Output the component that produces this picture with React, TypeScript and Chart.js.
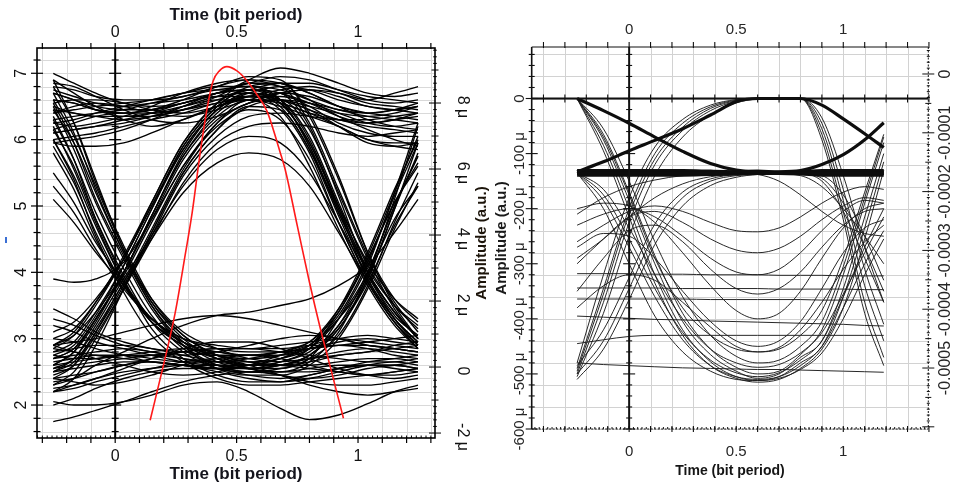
import React, { useEffect, useRef } from "react";
import { Chart, registerables } from "chart.js";

Chart.register(...registerables);

const SANS = '"Liberation Sans", Arial, Helvetica, sans-serif';

/* ---------------- Left eye diagram (amplitude, a.u.) ---------------- */
const leftTimes = [-0.255, -0.17, -0.08, 0.035, 0.15, 0.28, 0.42, 0.55, 0.68, 0.8, 0.92, 1.04, 1.15, 1.247];

const leftSteadyHigh = [
  [7.0, 6.85, 6.7, 6.55, 6.5, 6.55, 6.7, 6.85, 6.95, 6.9, 6.75, 6.6, 6.55, 6.6],
  [6.6, 6.55, 6.45, 6.4, 6.45, 6.6, 6.8, 6.9, 6.85, 6.7, 6.5, 6.3, 6.2, 6.15],
  [6.3, 6.35, 6.4, 6.45, 6.55, 6.65, 6.75, 6.8, 6.75, 6.6, 6.45, 6.4, 6.45, 6.5],
  [6.9, 6.7, 6.5, 6.3, 6.2, 6.3, 6.5, 6.7, 6.8, 6.75, 6.6, 6.5, 6.45, 6.4],
  [6.1, 6.15, 6.2, 6.25, 6.35, 6.5, 6.65, 6.7, 6.6, 6.45, 6.3, 6.2, 6.15, 6.1],
  [6.45, 6.4, 6.35, 6.3, 6.35, 6.45, 6.65, 6.9, 7.08, 7.0, 6.85, 6.7, 6.65, 6.7],
  [6.0, 6.05, 6.1, 6.2, 6.3, 6.4, 6.55, 6.6, 6.5, 6.35, 6.2, 6.0, 5.95, 5.95],
  [6.75, 6.65, 6.55, 6.5, 6.55, 6.6, 6.7, 6.75, 6.7, 6.55, 6.35, 6.25, 6.3, 6.4],
  [6.25, 6.2, 6.25, 6.35, 6.5, 6.7, 6.85, 6.9, 6.8, 6.6, 6.35, 6.15, 6.0, 5.9],
  [6.55, 6.6, 6.6, 6.55, 6.45, 6.4, 6.5, 6.65, 6.75, 6.8, 6.7, 6.55, 6.5, 6.45],
  [6.85, 6.8, 6.65, 6.45, 6.3, 6.25, 6.35, 6.55, 6.7, 6.75, 6.7, 6.6, 6.7, 6.8],
  [5.95, 5.9, 5.9, 5.95, 6.1, 6.3, 6.5, 6.6, 6.55, 6.4, 6.2, 6.0, 5.9, 5.85],
  [6.4, 6.5, 6.55, 6.5, 6.4, 6.35, 6.45, 6.6, 6.7, 6.65, 6.5, 6.4, 6.35, 6.3],
  [6.7, 6.6, 6.45, 6.35, 6.35, 6.45, 6.6, 6.75, 6.85, 6.85, 6.75, 6.65, 6.6, 6.55],
  [6.15, 6.25, 6.35, 6.4, 6.4, 6.45, 6.55, 6.65, 6.65, 6.55, 6.4, 6.25, 6.2, 6.25],
];

const leftSteadyLow = [
  [2.7, 2.75, 2.8, 2.85, 2.8, 2.7, 2.6, 2.55, 2.6, 2.7, 2.8, 2.85, 2.8, 2.75],
  [2.4, 2.35, 2.3, 2.35, 2.45, 2.6, 2.7, 2.75, 2.7, 2.6, 2.5, 2.45, 2.5, 2.55],
  [3.0, 2.95, 2.85, 2.75, 2.65, 2.6, 2.55, 2.6, 2.7, 2.85, 2.95, 3.0, 2.95, 2.9],
  [1.75, 1.82, 1.92, 2.05, 2.2, 2.35, 2.45, 2.5, 2.45, 2.35, 2.3, 2.3, 2.35, 2.4],
  [2.55, 2.6, 2.65, 2.7, 2.75, 2.8, 2.85, 2.85, 2.8, 2.75, 2.7, 2.65, 2.65, 2.7],
  [2.9, 2.8, 2.7, 2.6, 2.5, 2.45, 2.5, 2.6, 2.75, 2.9, 3.0, 3.05, 3.0, 2.95],
  [2.2, 2.25, 2.35, 2.45, 2.55, 2.65, 2.7, 2.6, 2.45, 2.3, 2.2, 2.15, 2.2, 2.25],
  [2.05, 2.0, 2.0, 2.05, 2.15, 2.3, 2.35, 2.2, 1.95, 1.78, 1.85, 2.02, 2.2, 2.3],
  [2.65, 2.7, 2.75, 2.75, 2.7, 2.65, 2.65, 2.7, 2.8, 2.9, 2.9, 2.85, 2.75, 2.7],
  [3.3, 3.2, 3.05, 2.9, 2.8, 2.75, 2.8, 2.9, 3.0, 3.05, 3.0, 2.9, 2.85, 2.8],
  [2.35, 2.4, 2.5, 2.6, 2.65, 2.6, 2.5, 2.4, 2.35, 2.4, 2.5, 2.6, 2.65, 2.6],
  [3.45, 3.3, 3.1, 2.95, 2.85, 2.8, 2.75, 2.75, 2.8, 2.85, 2.9, 2.95, 3.0, 3.05],
  [2.5, 2.55, 2.6, 2.65, 2.65, 2.6, 2.55, 2.45, 2.4, 2.45, 2.55, 2.6, 2.6, 2.55],
  [2.8, 2.85, 2.9, 2.9, 2.85, 2.75, 2.65, 2.6, 2.6, 2.65, 2.75, 2.8, 2.9, 2.95],
  [2.25, 2.3, 2.4, 2.55, 2.7, 2.85, 2.95, 2.95, 2.85, 2.7, 2.55, 2.45, 2.4, 2.45],
];

const leftFallLow = [
  [6.2, 5.55, 4.75, 3.85, 3.25, 2.9, 2.75, 2.65, 2.6, 2.6, 2.65, 2.7, 2.7, 2.65],
  [6.5, 5.85, 5.05, 4.2, 3.45, 2.9, 2.6, 2.5, 2.5, 2.55, 2.6, 2.6, 2.55, 2.5],
  [5.9, 5.35, 4.6, 3.8, 3.3, 3.0, 2.85, 2.8, 2.8, 2.85, 2.9, 2.9, 2.85, 2.8],
  [6.6, 6.05, 5.3, 4.35, 3.55, 3.0, 2.7, 2.55, 2.45, 2.4, 2.45, 2.55, 2.6, 2.65],
  [6.35, 5.7, 4.8, 3.9, 3.15, 2.7, 2.45, 2.35, 2.35, 2.45, 2.55, 2.65, 2.7, 2.75],
  [5.3, 4.9, 4.35, 3.75, 3.3, 3.0, 2.9, 2.85, 2.9, 2.95, 3.0, 2.95, 2.9, 2.85],
  [6.8, 6.25, 5.4, 4.35, 3.55, 3.05, 2.75, 2.65, 2.6, 2.55, 2.5, 2.45, 2.45, 2.5],
  [5.1, 4.75, 4.3, 3.8, 3.3, 2.95, 2.7, 2.55, 2.5, 2.5, 2.55, 2.6, 2.6, 2.55],
  [6.45, 5.95, 5.2, 4.3, 3.6, 3.1, 2.85, 2.7, 2.65, 2.7, 2.75, 2.8, 2.85, 2.9],
  [6.0, 5.4, 4.55, 3.7, 3.05, 2.65, 2.4, 2.3, 2.3, 2.35, 2.4, 2.45, 2.5, 2.55],
];

const leftFallRise = [
  [6.3, 5.7, 4.9, 4.05, 3.35, 2.85, 2.6, 2.55, 2.6, 2.75, 3.15, 3.9, 4.95, 5.8],
  [6.0, 5.45, 4.7, 3.85, 3.25, 2.95, 2.75, 2.7, 2.75, 2.9, 3.35, 4.15, 5.15, 5.95],
  [6.55, 5.95, 5.1, 4.25, 3.5, 2.95, 2.65, 2.55, 2.55, 2.7, 3.05, 3.8, 4.75, 5.5],
  [5.8, 5.25, 4.5, 3.8, 3.25, 2.9, 2.7, 2.6, 2.65, 2.85, 3.4, 4.25, 5.2, 6.05],
  [6.7, 6.1, 5.25, 4.3, 3.5, 2.9, 2.55, 2.45, 2.45, 2.6, 3.0, 3.75, 4.65, 5.35],
  [6.15, 5.6, 4.8, 3.95, 3.25, 2.8, 2.55, 2.5, 2.55, 2.7, 3.3, 4.1, 5.2, 6.25],
  [5.5, 5.05, 4.45, 3.85, 3.3, 2.95, 2.8, 2.75, 2.8, 2.95, 3.45, 4.2, 5.05, 5.65],
  [6.9, 6.25, 5.35, 4.4, 3.6, 3.05, 2.75, 2.6, 2.6, 2.75, 3.2, 4.0, 5.0, 5.75],
];

const leftRiseHigh = [
  [2.7, 2.85, 3.3, 4.0, 4.85, 5.75, 6.35, 6.6, 6.55, 6.4, 6.3, 6.25, 6.3, 6.35],
  [2.5, 2.65, 3.1, 3.8, 4.6, 5.5, 6.15, 6.5, 6.6, 6.55, 6.45, 6.35, 6.3, 6.25],
  [2.9, 3.1, 3.55, 4.25, 5.05, 5.95, 6.55, 6.75, 6.7, 6.5, 6.25, 6.1, 6.05, 6.05],
  [2.6, 2.8, 3.25, 4.0, 4.8, 5.7, 6.3, 6.55, 6.7, 6.75, 6.65, 6.5, 6.45, 6.5],
  [3.1, 3.25, 3.6, 4.2, 5.0, 5.85, 6.45, 6.65, 6.6, 6.45, 6.2, 5.95, 5.9, 5.95],
  [2.3, 2.5, 3.0, 3.75, 4.55, 5.45, 6.05, 6.35, 6.4, 6.35, 6.3, 6.3, 6.35, 6.4],
  [3.9, 3.85, 3.9, 4.15, 4.8, 5.6, 6.25, 6.55, 6.6, 6.5, 6.4, 6.35, 6.4, 6.5],
  [2.8, 2.95, 3.4, 4.1, 4.95, 5.9, 6.5, 6.8, 6.85, 6.7, 6.5, 6.4, 6.45, 6.55],
  [2.45, 2.6, 3.05, 3.75, 4.5, 5.35, 5.95, 6.2, 6.25, 6.2, 6.1, 6.05, 6.1, 6.15],
];

const leftRiseFall = [
  [2.7, 2.85, 3.3, 4.0, 4.85, 5.75, 6.4, 6.65, 6.55, 5.9, 4.9, 4.0, 3.4, 3.0],
  [2.5, 2.7, 3.15, 3.85, 4.65, 5.55, 6.25, 6.6, 6.6, 6.15, 5.2, 4.2, 3.45, 3.0],
  [2.85, 3.05, 3.5, 4.2, 5.0, 5.9, 6.5, 6.75, 6.7, 6.2, 5.15, 4.0, 3.35, 3.05],
  [2.6, 2.8, 3.3, 3.95, 4.75, 5.6, 6.2, 6.45, 6.3, 5.7, 4.75, 3.85, 3.25, 2.85],
  [3.0, 3.15, 3.55, 4.2, 5.05, 5.95, 6.55, 6.85, 6.85, 6.4, 5.45, 4.3, 3.5, 3.0],
  [2.4, 2.6, 3.1, 3.85, 4.5, 5.2, 5.65, 5.8, 5.7, 5.3, 4.6, 3.85, 3.25, 2.85],
  [2.9, 3.05, 3.4, 4.0, 4.85, 5.8, 6.45, 6.7, 6.55, 5.95, 4.95, 3.9, 3.3, 2.95],
  [2.2, 2.4, 2.9, 3.75, 4.6, 5.5, 6.15, 6.5, 6.45, 5.85, 4.95, 4.05, 3.5, 3.2],
  [2.75, 2.9, 3.35, 4.1, 4.95, 5.85, 6.45, 6.7, 6.6, 6.05, 5.05, 4.1, 3.5, 3.15],
  [2.55, 2.7, 3.2, 3.9, 4.55, 5.3, 5.85, 6.05, 5.95, 5.5, 4.75, 3.95, 3.3, 2.9],
];

const leftHighFall = [
  [6.4, 6.45, 6.5, 6.55, 6.6, 6.7, 6.8, 6.8, 6.6, 5.9, 4.9, 4.0, 3.4, 3.0],
  [6.1, 6.15, 6.2, 6.3, 6.4, 6.55, 6.65, 6.65, 6.45, 5.8, 4.75, 3.85, 3.25, 2.9],
  [6.7, 6.6, 6.5, 6.45, 6.45, 6.55, 6.7, 6.85, 6.8, 6.25, 5.25, 4.25, 3.55, 3.1],
  [6.5, 6.4, 6.35, 6.35, 6.4, 6.5, 6.6, 6.6, 6.35, 5.6, 4.65, 3.8, 3.2, 2.85],
  [5.95, 6.0, 6.05, 6.15, 6.3, 6.5, 6.7, 6.75, 6.6, 6.0, 5.0, 4.0, 3.4, 3.0],
  [6.8, 6.75, 6.65, 6.6, 6.6, 6.65, 6.8, 6.95, 6.9, 6.35, 5.4, 4.3, 3.6, 3.25],
  [6.25, 6.3, 6.4, 6.5, 6.6, 6.7, 6.75, 6.7, 6.5, 5.85, 4.85, 3.9, 3.3, 2.95],
  [6.6, 6.55, 6.45, 6.4, 6.45, 6.55, 6.7, 6.75, 6.55, 5.95, 5.0, 4.15, 3.6, 3.3],
];

const leftLowRise = [
  [2.6, 2.65, 2.7, 2.75, 2.75, 2.7, 2.65, 2.65, 2.7, 2.85, 3.3, 4.0, 5.0, 5.75],
  [2.85, 2.8, 2.75, 2.7, 2.65, 2.6, 2.55, 2.55, 2.65, 2.8, 3.2, 3.9, 4.95, 5.95],
  [2.4, 2.45, 2.5, 2.6, 2.7, 2.8, 2.85, 2.85, 2.85, 2.95, 3.4, 4.2, 5.05, 5.6],
  [3.2, 3.1, 2.95, 2.85, 2.75, 2.65, 2.6, 2.6, 2.7, 2.9, 3.3, 3.95, 5.1, 6.2],
  [2.2, 2.3, 2.4, 2.5, 2.55, 2.6, 2.6, 2.55, 2.6, 2.75, 3.15, 3.85, 4.7, 5.3],
  [2.0, 2.1, 2.25, 2.4, 2.5, 2.55, 2.55, 2.5, 2.5, 2.65, 3.1, 3.95, 4.8, 5.3],
  [2.75, 2.7, 2.7, 2.75, 2.8, 2.85, 2.8, 2.75, 2.75, 2.9, 3.45, 4.3, 5.25, 6.0],
];

const leftStray = [
  [2.3, 2.4, 2.6, 2.8, 3.0, 3.2, 3.35, 3.4, 3.5, 3.6, 3.8, 4.1, 4.6, 5.1],
  [2.9, 2.95, 3.0, 3.1, 3.2, 3.3, 3.35, 3.3, 3.2, 3.1, 3.0, 2.9, 2.85, 2.8],
];

const leftPulseTimes = [0.144, 0.2, 0.247, 0.29, 0.317, 0.35, 0.38, 0.403, 0.43, 0.46, 0.5, 0.54, 0.58, 0.625, 0.68, 0.7, 0.75, 0.8, 0.845, 0.877, 0.94];
const leftPulseValues = [1.77, 2.62, 3.39, 4.3, 4.9, 5.8, 6.5, 6.88, 7.04, 7.1, 7.04, 6.9, 6.7, 6.43, 5.8, 5.55, 4.7, 3.85, 3.15, 2.7, 1.8];

const leftTimeTicks = [0, 0.5, 1];
const leftTimeLabels = ["0", "0.5", "1"];
const leftAmpTicks = [2, 3, 4, 5, 6, 7];
const leftMicroTicks = [-2, 0, 2, 4, 6, 8];
const leftMicroLabels = ["-2 μ", "0", "2 μ", "4 μ", "6 μ", "8 μ"];

/* ---------------- Right eye diagram (values in μ a.u.) ---------------- */
const rightTimes = [-0.243, -0.12, 0, 0.12, 0.25, 0.38, 0.5, 0.6, 0.7, 0.8, 0.9, 1.0, 1.1, 1.189];

const rightThick = [
  [0, -22, -45, -70, -96, -118, -130, -134, -135, -135, -135, -135, -135, -135],
  [-133, -115, -95, -76, -55, -30, -6, 0, 0, 0, -12, -37, -64, -89],
  [-135, -135, -135, -135, -135, -135, -133, -132, -133, -131, -120, -102, -75, -44],
  [-131, -131, -131, -131, -131, -132, -133, -134, -134, -133, -131, -131, -131, -131],
  [-139, -139, -139, -139, -139, -138, -137, -136, -136, -137, -139, -139, -139, -139],
  [-136, -136, -136, -136, -136, -136, -135, -135, -135, -135, -136, -136, -136, -136],
];

const rightFallDeep = [
  [0, -75, -185, -300, -405, -465, -495, -508, -500, -470, -440, -345, -215, -100],
  [0, -65, -170, -285, -390, -455, -488, -500, -495, -465, -420, -320, -190, -80],
  [0, -85, -200, -320, -420, -478, -505, -512, -505, -480, -450, -360, -235, -115],
  [0, -55, -150, -260, -360, -430, -468, -480, -475, -450, -405, -305, -180, -70],
  [0, -95, -215, -335, -430, -485, -508, -515, -510, -490, -455, -380, -255, -130],
  [0, -70, -175, -290, -380, -430, -455, -460, -455, -430, -385, -290, -170, -65],
];

const rightRiseTop = [
  [-490, -345, -200, -100, -45, -15, -3, 0, 0, 0, -65, -205, -370, -470],
  [-500, -370, -225, -120, -58, -22, -5, 0, 0, 0, -55, -185, -340, -440],
  [-480, -320, -180, -88, -38, -12, -2, 0, 0, 0, -75, -220, -390, -485],
  [-505, -390, -250, -140, -70, -30, -8, -1, 0, 0, -45, -165, -310, -410],
  [-495, -355, -210, -110, -52, -18, -4, 0, 0, 0, -35, -140, -270, -370],
];

const rightBandDeep = [
  [-135, -175, -255, -345, -425, -475, -498, -505, -498, -475, -440, -360, -270, -200],
  [-135, -165, -235, -320, -400, -455, -480, -488, -483, -462, -425, -355, -280, -215],
  [-135, -185, -270, -360, -438, -485, -505, -510, -505, -485, -450, -380, -300, -240],
  [-135, -200, -300, -395, -460, -495, -510, -512, -508, -492, -462, -400, -320, -255],
];

const rightDeepBand = [
  [-500, -440, -345, -245, -180, -150, -140, -137, -136, -136, -140, -175, -250, -330],
  [-510, -455, -365, -265, -195, -158, -143, -138, -137, -137, -145, -190, -270, -350],
  [-485, -420, -325, -228, -170, -146, -138, -136, -135, -136, -150, -205, -290, -370],
];

const rightArcs = [
  [-260, -230, -205, -195, -205, -225, -240, -242, -235, -215, -190, -170, -160, -165],
  [-300, -255, -215, -205, -225, -255, -275, -280, -272, -250, -220, -195, -180, -185],
  [-230, -210, -200, -215, -250, -290, -315, -320, -310, -280, -240, -205, -185, -190],
  [-350, -290, -240, -230, -260, -310, -345, -355, -345, -315, -270, -230, -205, -200],
  [-200, -190, -195, -225, -280, -340, -385, -400, -390, -350, -290, -235, -200, -190],
  [-270, -245, -250, -290, -350, -405, -440, -450, -440, -405, -345, -280, -235, -220],
  [-380, -340, -320, -330, -370, -415, -450, -460, -452, -420, -370, -310, -260, -230],
  [-210, -180, -160, -148, -140, -137, -136, -138, -150, -175, -205, -230, -245, -250],
  [-290, -255, -215, -180, -155, -142, -138, -137, -137, -140, -160, -200, -250, -300],
];

const rightFlat = [
  [-318, -318, -318, -319, -319, -320, -320, -320, -321, -321, -321, -322, -322, -322],
  [-344, -344, -344, -344, -345, -345, -345, -345, -346, -346, -346, -346, -347, -347],
  [-364, -364, -364, -364, -364, -365, -365, -365, -365, -365, -366, -366, -366, -366],
  [-445, -438, -432, -430, -430, -430, -430, -430, -430, -430, -430, -430, -430, -430],
  [-480, -483, -485, -487, -489, -490, -491, -492, -492, -493, -494, -495, -496, -497],
  [-395, -397, -399, -401, -402, -404, -405, -406, -407, -408, -409, -410, -412, -413],
];

const rightTimeTicks = [0, 0.5, 1];
const rightTimeLabels = ["0", "0.5", "1"];
const rightMicroTicks = [0, -100, -200, -300, -400, -500, -600];
const rightMicroLabels = ["0", "-100 μ", "-200 μ", "-300 μ", "-400 μ", "-500 μ", "-600 μ"];
const rightAltTicks = [0, -0.0001, -0.0002, -0.0003, -0.0004, -0.0005];
const rightAltLabels = ["0", "-0.0001", "-0.0002", "-0.0003", "-0.0004", "-0.0005"];

const timeTitle = "Time (bit period)";
const ampTitle = "Amplitude (a.u.)";

/* ---------------- helpers ---------------- */
function traceSets(times: number[], groups: number[][][], style: any) {
  return groups.flatMap((g) =>
    g.map((vals) => ({
      data: vals.map((v, i) => ({ x: times[i], y: v })),
      ...style,
    }))
  );
}

function seg(ctx: CanvasRenderingContext2D, x1: number, y1: number, x2: number, y2: number) {
  ctx.beginPath();
  ctx.moveTo(x1, y1);
  ctx.lineTo(x2, y2);
  ctx.stroke();
}

function text(ctx: CanvasRenderingContext2D, s: string, x: number, y: number, font: string, color: string, rot = 0) {
  ctx.save();
  ctx.translate(x, y);
  if (rot) ctx.rotate(rot);
  ctx.font = font;
  ctx.fillStyle = color;
  ctx.textAlign = "center";
  ctx.textBaseline = "middle";
  ctx.fillText(s, 0, 0);
  ctx.restore();
}

const leftFrame = {
  id: "leftFrame",
  beforeDatasetsDraw(chart: any) {
    const { ctx, chartArea: a, scales } = chart;
    const xs = scales.x, ys = scales.y;
    ctx.save();
    ctx.strokeStyle = "#d9d9d9";
    ctx.lineWidth = 1;
    for (let i = -3; i <= 13; i++) {
      const px = Math.round(xs.getPixelForValue(i / 10)) + 0.5;
      seg(ctx, px, a.top, px, a.bottom);
    }
    for (let i = 8; i <= 36; i++) {
      const py = Math.round(ys.getPixelForValue(i / 5)) + 0.5;
      seg(ctx, a.left, py, a.right, py);
    }
    ctx.restore();
  },
  afterDatasetsDraw(chart: any) {
    const { ctx, chartArea: a, scales } = chart;
    const xs = scales.x, ys = scales.y, yr = scales.yr;
    const x0 = xs.getPixelForValue(0);
    ctx.save();
    ctx.strokeStyle = "#000";
    ctx.lineWidth = 2;
    seg(ctx, x0, a.top, x0, a.bottom);
    ctx.lineWidth = 1.2;
    for (let i = 8; i <= 36; i++) {
      const py = ys.getPixelForValue(i / 5);
      const len = i % 5 === 0 ? 6 : 3.5;
      seg(ctx, a.left - len, py, a.left + len, py);
      seg(ctx, x0 - len, py, x0 + len, py);
    }
    for (let i = -3; i <= 13; i++) {
      const px = xs.getPixelForValue(i / 10);
      seg(ctx, px, a.top - 5, px, a.top + 1);
      seg(ctx, px, a.bottom - 1, px, a.bottom + 5);
    }
    ctx.lineWidth = 1;
    for (let i = -16; i <= 65; i++) {
      const px = xs.getPixelForValue(i / 50);
      seg(ctx, px, a.bottom - 2.5, px, a.bottom);
    }
    for (let i = -10; i <= 48; i++) {
      const py = yr.getPixelForValue(i / 5);
      const len = i % 10 === 0 ? 6 : i % 5 === 0 ? 3.5 : 1.8;
      seg(ctx, a.right - len, py, a.right + len, py);
    }
    ctx.lineWidth = 1.6;
    ctx.strokeRect(a.left, a.top, a.right - a.left, a.bottom - a.top);

    const cx = (a.left + a.right) / 2;
    const tickFont = `16px ${SANS}`;
    const titleFont = `bold 17px ${SANS}`;
    text(ctx, timeTitle, cx, 15, titleFont, "#14141c");
    text(ctx, timeTitle, cx, 474, titleFont, "#14141c");
    leftTimeTicks.forEach((v, i) => {
      const px = xs.getPixelForValue(v);
      text(ctx, leftTimeLabels[i], px, 33, tickFont, "#111");
      text(ctx, leftTimeLabels[i], px, 457, tickFont, "#111");
    });
    leftAmpTicks.forEach((v) => {
      text(ctx, String(v), 22, ys.getPixelForValue(v), tickFont, "#111", -Math.PI / 2);
    });
    leftMicroTicks.forEach((v, i) => {
      text(ctx, leftMicroLabels[i], 462, yr.getPixelForValue(v) + 4, tickFont, "#111", Math.PI / 2);
    });
    text(ctx, ampTitle, 482, (a.top + a.bottom) / 2, `bold 15px ${SANS}`, "#1c140a", -Math.PI / 2);
    ctx.strokeStyle = "#3b6fd4";
    ctx.lineWidth = 2;
    seg(ctx, 6, 237, 6, 243);
    ctx.restore();
  },
};

const rightFrame = {
  id: "rightFrame",
  beforeDatasetsDraw(chart: any) {
    const { ctx, chartArea: a, scales } = chart;
    const xs = scales.x, ys = scales.y;
    ctx.save();
    ctx.strokeStyle = "#d2d2d2";
    ctx.lineWidth = 1;
    for (let i = -4; i <= 13; i++) {
      const px = Math.round(xs.getPixelForValue(i / 10)) + 0.5;
      seg(ctx, px, a.top, px, a.bottom);
    }
    for (let i = -15; i <= 2; i++) {
      const py = Math.round(ys.getPixelForValue(i * 40)) + 0.5;
      seg(ctx, a.left, py, a.right, py);
    }
    ctx.restore();
  },
  afterDatasetsDraw(chart: any) {
    const { ctx, chartArea: a, scales } = chart;
    const xs = scales.x, ys = scales.y, y2 = scales.y2;
    const x0 = xs.getPixelForValue(0);
    const y0 = ys.getPixelForValue(0);
    ctx.save();
    ctx.strokeStyle = "#111";
    ctx.lineWidth = 2;
    seg(ctx, x0, a.top, x0, a.bottom);
    seg(ctx, a.left, y0, a.right, y0);
    ctx.lineWidth = 1.1;
    for (let i = -30; i <= 4; i++) {
      const py = ys.getPixelForValue(i * 20);
      const len = i % 5 === 0 ? 6 : 3;
      seg(ctx, a.left - len, py, a.left + len, py);
      seg(ctx, x0 - len, py, x0 + len, py);
    }
    for (let i = -4; i <= 14; i++) {
      const px = xs.getPixelForValue(i / 10);
      seg(ctx, px, a.top - 5, px, a.top + 1);
      seg(ctx, px, y0 - 4, px, y0 + 4);
      seg(ctx, px, a.bottom - 3, px, a.bottom + 3);
    }
    ctx.lineWidth = 1;
    for (let i = -22; i <= 69; i++) {
      const px = xs.getPixelForValue(i / 50);
      seg(ctx, px, a.bottom - 2, px, a.bottom);
    }
    for (let i = -60; i <= 4; i++) {
      const py = y2.getPixelForValue(i / 100000);
      const len = i % 10 === 0 ? 6 : i % 5 === 0 ? 3 : 1.5;
      seg(ctx, a.right - len, py, a.right + len, py);
    }
    ctx.lineWidth = 1.6;
    seg(ctx, a.left, a.top, a.left, a.bottom);
    ctx.lineWidth = 1.2;
    seg(ctx, a.left, a.top, a.right, a.top);
    ctx.setLineDash([2, 1.5]);
    ctx.lineWidth = 1;
    seg(ctx, a.right, a.top, a.right, a.bottom);
    seg(ctx, a.left, a.bottom, a.right, a.bottom);
    ctx.setLineDash([]);

    const tickFont = `15px ${SANS}`;
    const col = "#262626";
    rightTimeTicks.forEach((v, i) => {
      const px = xs.getPixelForValue(v);
      text(ctx, rightTimeLabels[i], px, 30, tickFont, col);
      text(ctx, rightTimeLabels[i], px, 452, tickFont, col);
    });
    text(ctx, timeTitle, (a.left + a.right) / 2, 471, `bold 14px ${SANS}`, "#151515");
    rightMicroTicks.forEach((v, i) => {
      text(ctx, rightMicroLabels[i], 40, ys.getPixelForValue(v), tickFont, col, -Math.PI / 2);
    });
    text(ctx, ampTitle, 22, (a.top + a.bottom) / 2, `bold 15px ${SANS}`, "#1a1a1a", -Math.PI / 2);
    rightAltTicks.forEach((v, i) => {
      text(ctx, rightAltLabels[i], 466, y2.getPixelForValue(v), `16px ${SANS}`, col, -Math.PI / 2);
    });
    ctx.restore();
  },
};

function baseOptions(padding: any, scales: any) {
  return {
    animation: false,
    responsive: false,
    events: [],
    layout: { padding },
    plugins: { legend: { display: false }, tooltip: { enabled: false } },
    elements: {
      point: { radius: 0, hoverRadius: 0 },
      line: { cubicInterpolationMode: "monotone" },
    },
    scales,
  };
}

export default function App() {
  const leftRef = useRef<HTMLCanvasElement | null>(null);
  const rightRef = useRef<HTMLCanvasElement | null>(null);

  useEffect(() => {
    const blackStyle = { borderColor: "#000", borderWidth: 1.35, fill: false };
    const leftDatasets = [
      {
        data: leftPulseTimes.map((t, i) => ({ x: t, y: leftPulseValues[i] })),
        borderColor: "#ff1a1a",
        borderWidth: 1.6,
        fill: false,
      },
      ...traceSets(
        leftTimes,
        [leftSteadyHigh, leftSteadyLow, leftFallLow, leftFallRise, leftRiseHigh, leftRiseFall, leftHighFall, leftLowRise, leftStray],
        blackStyle
      ),
    ];
    const left = new Chart(leftRef.current as HTMLCanvasElement, {
      type: "line",
      data: { datasets: leftDatasets as any },
      options: baseOptions(
        { left: 37, top: 48, right: 57, bottom: 45 },
        {
          x: { type: "linear", min: -0.322, max: 1.317, display: false },
          y: { type: "linear", min: 1.503, max: 7.381, display: false },
          yr: { type: "linear", position: "right", min: -2.15, max: 9.667, display: false },
        }
      ) as any,
      plugins: [leftFrame],
    });

    const thinStyle = { borderColor: "#1c1c1c", borderWidth: 0.95, fill: false };
    const rightDatasets = [
      ...traceSets(rightTimes, [rightThick], { borderColor: "#0d0d0d", borderWidth: 3.2, fill: false }),
      ...traceSets(
        rightTimes,
        [rightFallDeep, rightRiseTop, rightBandDeep, rightDeepBand, rightArcs, rightFlat],
        thinStyle
      ),
    ];
    const right = new Chart(rightRef.current as HTMLCanvasElement, {
      type: "line",
      data: { datasets: rightDatasets as any },
      options: baseOptions(
        { left: 51.7, top: 47, right: 25.7, bottom: 54 },
        {
          x: { type: "linear", min: -0.455, max: 1.397, display: false },
          y: { type: "linear", min: -600, max: 93.5, display: false },
          y2: { type: "linear", position: "right", min: -0.0006037, max: 0.0000459, display: false },
        }
      ) as any,
      plugins: [rightFrame],
    });

    return () => {
      left.destroy();
      right.destroy();
    };
  }, []);

  return (
    <div style={{ position: "fixed", left: 0, top: 0, width: 954, height: 483, background: "#fff", overflow: "hidden" }}>
      <canvas ref={leftRef} width={492} height={483} style={{ position: "absolute", left: 0, top: 0 }} />
      <canvas ref={rightRef} width={474} height={483} style={{ position: "absolute", left: 480, top: 0 }} />
    </div>
  );
}
